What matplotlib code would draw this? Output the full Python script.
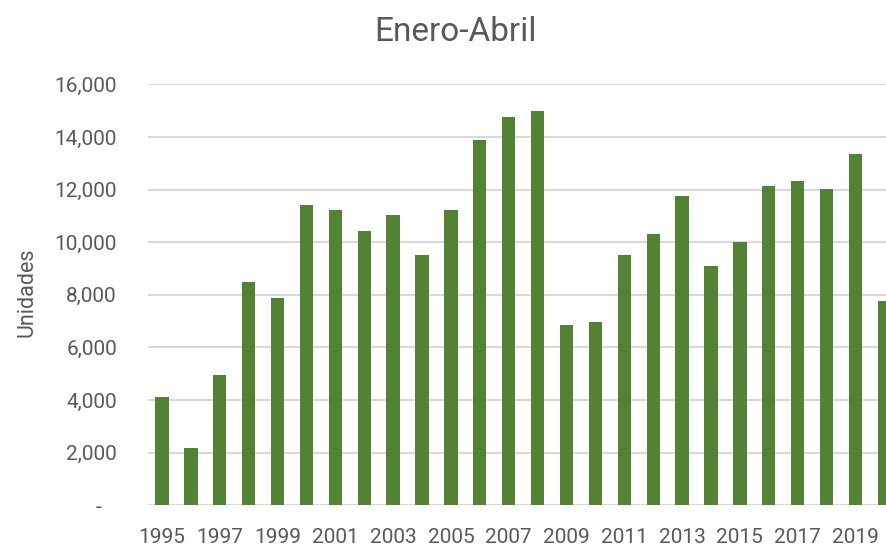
import matplotlib
matplotlib.use("Agg")
import matplotlib.pyplot as plt
from matplotlib.ticker import FuncFormatter

plt.rcParams['font.family'] = ['Roboto', 'DejaVu Sans']

# datos (Enero-Abril, unidades)
years = list(range(1995, 2021))
units = [4120, 2190, 4940, 8490, 7880, 11420, 11220, 10420, 11030, 9510,
         11220, 13870, 14770, 14980, 6860, 6960, 9510, 10320, 11740, 9090,
         10010, 12140, 12340, 12040, 13350, 7780]
tick_years = years[::2]

bar_color = '#548235'
text_color = '#595959'
grid_color = '#d9d9d9'

fig = plt.figure(figsize=(8.87, 5.48), dpi=100)
ax = fig.add_axes([0.1663, 0.0779, 0.8337, 0.7682])

x = list(range(len(years)))
ax.bar(x, units, width=0.46, color=bar_color, zorder=3)

ax.set_xlim(-0.5, 25.09)
ax.set_ylim(0, 16000)
ax.set_yticks(range(0, 16001, 2000))
ax.yaxis.set_major_formatter(FuncFormatter(lambda v, p: '-   ' if v == 0 else f'{v:,.0f}'))
ax.set_xticks([years.index(y) for y in tick_years])
ax.set_xticklabels([str(y) for y in tick_years])

ax.grid(axis='y', color=grid_color, linewidth=1.5, zorder=0)
for s in ax.spines.values():
    s.set_visible(False)
ax.tick_params(axis='both', length=0, labelsize=15, labelcolor=text_color)
ax.tick_params(axis='y', pad=22)
ax.tick_params(axis='x', pad=16)

fig.text(0.513, 0.925, 'Enero-Abril', ha='center', va='baseline',
         fontsize=24, color=text_color)
fig.text(0.031, 0.467, 'Unidades', rotation=90, ha='center', va='center',
         fontsize=15.5, color=text_color)

fig.savefig('out.png', dpi=100)
